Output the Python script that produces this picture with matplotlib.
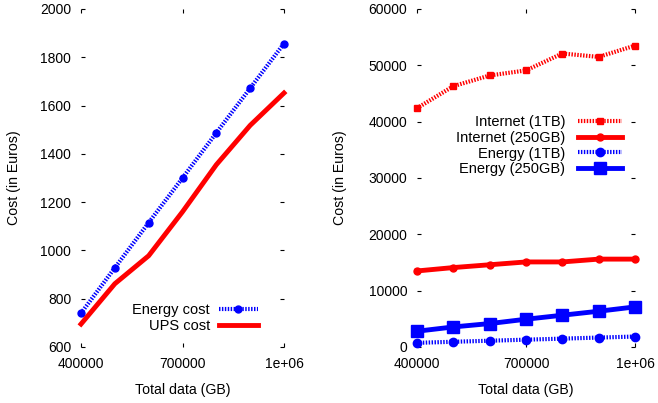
import matplotlib
matplotlib.use("Agg")
import matplotlib.pyplot as plt

plt.rcParams['font.family'] = ['Liberation Sans', 'DejaVu Sans']
plt.rcParams['font.size'] = 10

# ---- data ----
data_gb = [400000, 500000, 600000, 700000, 800000, 900000, 1000000]

energy_cost = [740, 928, 1115, 1300, 1487, 1672, 1857]
ups_cost = [695, 862, 978, 1160, 1355, 1518, 1652]

internet_1tb = [42400, 46300, 48200, 49100, 52100, 51500, 53500]
internet_250gb = [13500, 14100, 14600, 15100, 15100, 15600, 15600]
energy_1tb = [740, 928, 1115, 1300, 1487, 1672, 1857]
energy_250gb = [2800, 3560, 4160, 4930, 5640, 6350, 7120]

xtick_vals = [400000, 700000, 1000000]
xtick_labels = ["400000", "700000", "1e+06"]
left_yticks = list(range(600, 2001, 200))
right_yticks = list(range(0, 60001, 10000))

RED = "#ff0000"
BLUE = "#0000ff"
DOT = (0, (0.35, 0.35))

fig = plt.figure(figsize=(6.58, 4.03), dpi=100)
ax1 = fig.add_axes([81 / 658, 1 - 347 / 403, 203 / 658, 338 / 403])
ax2 = fig.add_axes([417 / 658, 1 - 347 / 403, 218 / 658, 338 / 403])


def gnuplot_axes(ax, ylab_x):
    for s in ax.spines.values():
        s.set_visible(False)
    ax.tick_params(direction='in', length=3, width=0.8, top=True, right=True,
                   pad=7, labelsize=10)
    ax.set_xlim(400000, 1000000)
    ax.set_xticks(xtick_vals)
    ax.set_xticklabels(xtick_labels)
    ax.set_xlabel("Total data (GB)", labelpad=9, fontsize=10.2)
    ax.set_ylabel("Cost (in Euros)", fontsize=10.2)
    ax.yaxis.set_label_coords(ylab_x, 0.5)


# left panel
ax1.plot(data_gb, energy_cost, color=BLUE, lw=3, ls=DOT, marker='o', ms=5,
         label="Energy cost", clip_on=False)
ax1.plot(data_gb, ups_cost, color=RED, lw=3.5, label="UPS cost", clip_on=False)
gnuplot_axes(ax1, -0.296)
ax1.set_ylim(600, 2000)
ax1.set_yticks(left_yticks)
ax1.legend(loc='lower right', bbox_to_anchor=(0.872, 0.04), frameon=False,
           markerfirst=False, numpoints=1, handlelength=2.7, handletextpad=0.6,
           labelspacing=0.18, borderpad=0, borderaxespad=0, fontsize=10.5)

# right panel
ax2.plot(data_gb, internet_1tb, color=RED, lw=3, ls=DOT, marker='s', ms=5,
         label="Internet (1TB)", clip_on=False)
ax2.plot(data_gb, internet_250gb, color=RED, lw=3.5, marker='o', ms=5,
         label="Internet (250GB)", clip_on=False)
ax2.plot(data_gb, energy_1tb, color=BLUE, lw=3, ls=DOT, marker='o', ms=6,
         label="Energy (1TB)", clip_on=False)
ax2.plot(data_gb, energy_250gb, color=BLUE, lw=3.5, marker='s', ms=8,
         label="Energy (250GB)", clip_on=False)
gnuplot_axes(ax2, -0.32)
ax2.set_ylim(0, 60000)
ax2.set_yticks(right_yticks)
ax2.legend(loc='lower right', bbox_to_anchor=(0.94, 0.505), frameon=False,
           markerfirst=False, numpoints=1, handlelength=3.0, handletextpad=0.9,
           labelspacing=0.12, borderpad=0, borderaxespad=0, fontsize=10.5)

fig.savefig("out.png", dpi=100)
